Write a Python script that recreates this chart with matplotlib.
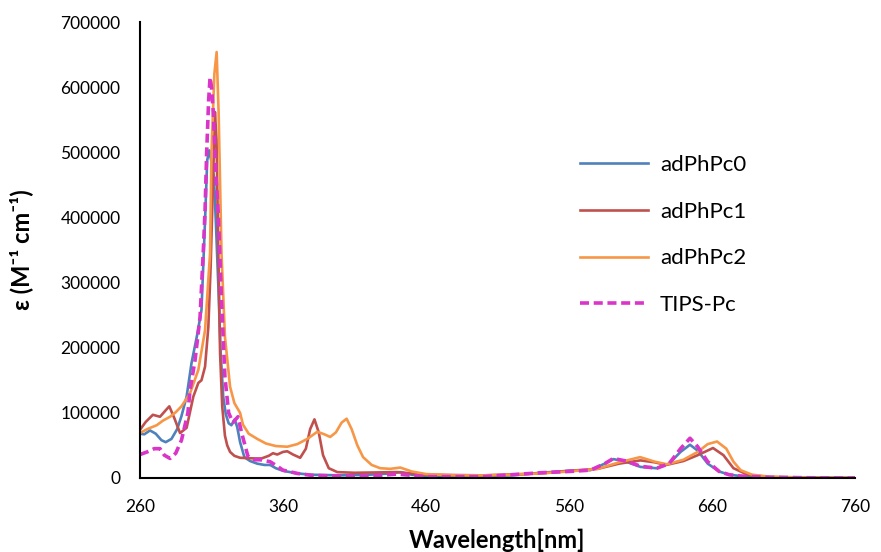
import matplotlib
matplotlib.use("Agg")
import matplotlib.pyplot as plt

# absorption spectra, wavelength in nm, epsilon in M^-1 cm^-1
wl_0 = [260, 263, 267, 271, 275, 278, 282, 286, 289, 292.6, 296, 300, 303, 305.5, 307, 308.5,
        310, 311.7, 313, 314.8, 316.4, 318.2, 320, 322, 323.9, 326.2, 328, 330, 333, 337, 342,
        347, 351, 355, 360, 370, 380, 400, 420, 435, 442, 450, 460, 480, 500, 520, 540, 560,
        575, 585, 591, 600, 610, 621, 630, 638, 644.6, 650, 657, 665, 672, 680, 700, 730, 760]
eps_0 = [68000, 67000, 73000, 68000, 58000, 55000, 60000, 75000, 95000, 125000, 176000, 220000,
         258000, 396000, 488000, 503000, 485000, 462000, 396000, 294000, 192000, 125000, 98000,
         84000, 81000, 90000, 78000, 55000, 32000, 26000, 22000, 20000, 20000, 15000, 11000,
         7000, 5000, 4000, 5000, 7000, 9000, 5000, 3000, 2000, 3000, 4000, 8000, 11000, 12000,
         22000, 29000, 25000, 17000, 15000, 22000, 40000, 51000, 42000, 22000, 10000, 5000,
         3000, 1000, 500, 0]

wl_1 = [260, 264, 269, 274, 278, 280.5, 284, 288, 292.6, 297.3, 300.8, 303, 305.5, 307.8, 309.4,
        311, 312.4, 313.5, 314.8, 316, 317.5, 319.4, 321, 323, 326, 330, 340, 345, 350, 353,
        356, 360, 363, 367, 372, 376, 379, 382, 385, 388, 392, 398, 410, 440, 460, 500, 540,
        560, 580, 595, 610, 620, 628, 640, 650, 660.7, 668, 675, 685, 700, 730, 760]
eps_1 = [74000, 86000, 97000, 94000, 104000, 110000, 92000, 69000, 77000, 125000, 146000, 150000,
         171000, 232000, 324000, 450000, 562000, 520000, 345000, 192000, 110000, 65000, 50000,
         40000, 34000, 31000, 30000, 30000, 34000, 38000, 36000, 40000, 41000, 36000, 31000,
         45000, 75000, 90000, 70000, 35000, 15000, 9000, 8000, 9000, 5000, 4000, 7000, 11000,
         14000, 22000, 27000, 24000, 20000, 26000, 35000, 46000, 35000, 15000, 5000, 1500, 500, 0]

wl_2 = [260, 265, 271.7, 276, 281, 285, 289, 295, 300.8, 305.5, 309, 310, 311, 312, 313.6, 315,
        317, 319.4, 323, 326, 330, 332, 336, 342, 348, 355, 363, 370, 377, 384, 389, 393, 397,
        401, 404.5, 408, 412, 416, 422, 428, 435, 442, 450, 460, 480, 500, 520, 540, 560, 580,
        595, 609.7, 620, 628.5, 640, 650, 657, 663.5, 670, 675, 680, 688, 700, 730, 760]
eps_2 = [69000, 75000, 81000, 88000, 94000, 101000, 110000, 130000, 166000, 227000, 345000,
         499000, 560000, 620000, 654000, 560000, 345000, 217000, 140000, 115000, 100000, 82000,
         68000, 60000, 53000, 49000, 48000, 52000, 60000, 71000, 67000, 63000, 70000, 85000,
         91000, 75000, 50000, 32000, 20000, 15000, 14000, 16000, 10000, 6000, 4000, 4000, 5000,
         7000, 10000, 14000, 24000, 32000, 25000, 21000, 28000, 40000, 52000, 56000, 45000,
         25000, 12000, 5000, 2000, 500, 0]

wl_t = [260, 265, 270, 274, 277, 281, 285, 289, 293.5, 295, 298.5, 302, 304.3, 305.5, 306.6,
        308, 309, 310, 311.3, 313, 314.8, 317, 319.4, 322, 325, 328.5, 331, 335.5, 340, 344,
        351, 356, 360, 370, 380, 400, 420, 440, 450, 460, 500, 540, 560, 575, 585, 591, 600,
        610, 621.5, 630, 638, 644.6, 650, 657, 665, 672, 680, 700, 730, 760]
eps_t = [36000, 40000, 45000, 45000, 35000, 30000, 38000, 58000, 100000, 135000, 181000, 247000,
         350000, 411000, 498000, 580000, 615000, 600000, 560000, 468000, 405000, 273000, 155000,
         100000, 85000, 94000, 70000, 33000, 28000, 28000, 25000, 18000, 12000, 7000, 4000, 3000,
         3000, 6000, 4000, 2000, 2000, 8000, 10000, 12000, 22000, 30000, 26000, 18000, 15000,
         22000, 45000, 61000, 48000, 25000, 10000, 5000, 3000, 1000, 300, 0]

x_ticks = [260, 360, 460, 560, 660, 760]
y_ticks = [0, 100000, 200000, 300000, 400000, 500000, 600000, 700000]

plt.rcParams['font.family'] = ['Lato', 'DejaVu Sans']

fig = plt.figure(figsize=(8.81, 5.52), dpi=100)
ax = fig.add_axes([0.1589, 0.1341, 0.8116, 0.8259])

ax.plot(wl_0, eps_0, color='#4F81BD', lw=1.9, label='adPhPc0')
ax.plot(wl_1, eps_1, color='#C0504D', lw=1.9, label='adPhPc1')
ax.plot(wl_2, eps_2, color='#F79646', lw=1.9, label='adPhPc2')
ax.plot(wl_t, eps_t, color='#D935C8', lw=2.6, ls=(0, (2.5, 1.3)), label='TIPS-Pc')

ax.set_xlim(260, 760)
ax.set_ylim(0, 700000)
ax.set_xticks(x_ticks)
ax.set_yticks(y_ticks)
ax.tick_params(length=0, labelsize=12.5)
ax.tick_params(axis='y', pad=14)
ax.tick_params(axis='x', pad=15)

for s in ['top', 'right']:
    ax.spines[s].set_visible(False)
for s in ['left', 'bottom']:
    ax.spines[s].set_linewidth(1.5)
    ax.spines[s].set_color('#000000')

ax.set_xlabel('Wavelength[nm]', fontsize=17, fontweight='bold', labelpad=10)
ax.set_ylabel('ε (M⁻¹ cm⁻¹)', fontsize=17, fontweight='bold', labelpad=20)

ax.legend(loc='center left', bbox_to_anchor=(0.60, 0.533), frameon=False, fontsize=16,
          borderpad=0, handlelength=3.05, labelspacing=1.2, handletextpad=0.55)

fig.savefig('out.png', dpi=100)
